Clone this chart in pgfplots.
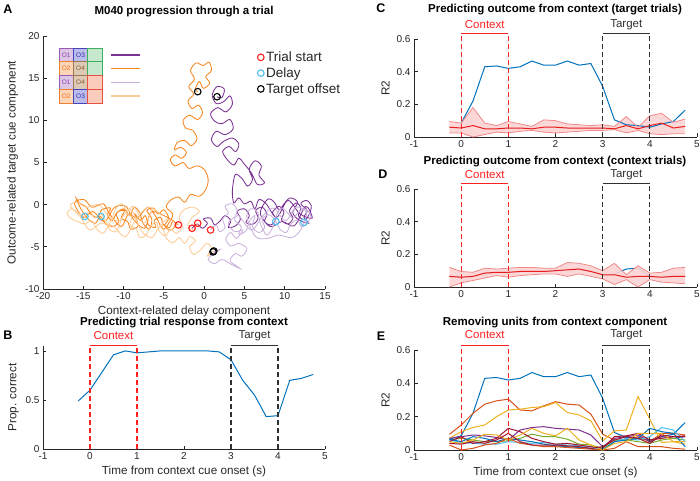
\documentclass[border=0pt]{standalone}
\usepackage{fontspec}
\setmainfont{Liberation Sans}
\usepackage{pgfplots}
\pgfplotsset{compat=1.18}

\definecolor{mgray}{rgb}{0.15,0.15,0.15}
\definecolor{mblue}{rgb}{0,0.447,0.741}
\definecolor{morange}{rgb}{0.85,0.325,0.098}
\definecolor{myellow}{rgb}{0.929,0.694,0.125}
\definecolor{mpurple}{rgb}{0.494,0.184,0.556}
\definecolor{mgreen}{rgb}{0.466,0.674,0.188}
\definecolor{mcyan}{rgb}{0.301,0.745,0.933}
\definecolor{mdred}{rgb}{0.635,0.078,0.184}
\definecolor{ctxred}{HTML}{FF2020}
\definecolor{tgtgray}{HTML}{303030}
\definecolor{meanred}{HTML}{E81E1E}
\definecolor{bandfill}{HTML}{FBD3D3}
\definecolor{bandedge}{HTML}{F08A8A}
\definecolor{trP}{HTML}{7B3294}
\definecolor{trO}{HTML}{F7861E}
\definecolor{trLP}{HTML}{CBB2DD}
\definecolor{trLO}{HTML}{FDCB96}
\definecolor{cPf}{HTML}{DCC6E6}\definecolor{cPd}{HTML}{9B59B6}\definecolor{cPt}{HTML}{8E3FAA}
\definecolor{cOf}{HTML}{FCD6B8}\definecolor{cOd}{HTML}{F08030}\definecolor{cOt}{HTML}{F06A1A}
\definecolor{cBf}{HTML}{BCBCEA}\definecolor{cBd}{HTML}{4545C0}\definecolor{cBt}{HTML}{3030B0}
\definecolor{cNf}{HTML}{DDCAB6}\definecolor{cNd}{HTML}{A07850}\definecolor{cNt}{HTML}{8B5A2B}
\definecolor{cGf}{HTML}{C6E9CE}\definecolor{cGd}{HTML}{3DAF5E}
\definecolor{cRf}{HTML}{FBCBBB}\definecolor{cRd}{HTML}{E85040}

\pgfplotsset{
  matlab/.style={
    scale only axis,
    anchor=south west,
    axis x line=bottom, axis y line=left,
    axis line style={-, draw=mgray, line width=0.8pt},
    tick align=inside,
    major tick length=3.5pt,
    tick style={draw=mgray, line width=0.8pt},
    ticklabel style={font=\fontsize{10}{12}\selectfont, text=mgray},
    label style={font=\fontsize{11.7}{14}\selectfont, text=mgray},
    /pgf/number format/assume math mode=true,
    clip=false,
  },
  tsax/.style={matlab, width=283pt, height=98pt,
    xmin=-1, xmax=5, xtick={-1,0,...,5},
    ymin=0, ymax=0.6, ytick={0,0.2,0.4,0.6},
    yticklabel style={/pgf/number format/fixed},
    ylabel={R2}},
  traj/.style={line width=0.85pt, smooth, tension=0.55, forget plot},
}

% context / target markers inside an axis
\newcommand{\epochs}[2]{%
  \draw[ctxred, line width=1.3pt, dash pattern=on 5pt off 3pt] (axis cs:0,0) -- (axis cs:0,#1);
  \draw[ctxred, line width=1.3pt, dash pattern=on 5pt off 3pt] (axis cs:1,0) -- (axis cs:1,#1);
  \draw[ctxred, line width=1.2pt] (axis cs:0,#1) -- (axis cs:1,#1);
  \node[ctxred, font=\fontsize{11.5}{14}\selectfont] at (axis cs:0.5,#2) {Context};
  \draw[tgtgray, line width=1.3pt, dash pattern=on 5pt off 3pt] (axis cs:3,0) -- (axis cs:3,#1);
  \draw[tgtgray, line width=1.3pt, dash pattern=on 5pt off 3pt] (axis cs:4,0) -- (axis cs:4,#1);
  \draw[tgtgray, line width=1.2pt] (axis cs:3,#1) -- (axis cs:4,#1);
  \node[tgtgray, font=\fontsize{11.5}{14}\selectfont] at (axis cs:3.5,#2) {Target};
}
% one cell of the condition grid in panel A
\newcommand{\cell}[6]{%
  \filldraw[fill=#3, draw=#4, line width=0.8pt] (axis cs:#1,#2) rectangle (axis cs:#1+1.776,#2+1.63);
  \node[text=#6, font=\fontsize{6.5}{7}\selectfont] at (axis cs:#1+0.888,#2+0.815) {#5};
}

\begin{document}
\begin{tikzpicture}
\useasboundingbox (0pt,0pt) rectangle (700pt,480pt);

% ---------------- A ----------------
\begin{axis}[matlab, at={(43pt,191pt)}, width=282pt, height=253pt,
  xmin=-20, xmax=15, ymin=-10, ymax=20,
  xtick={-20,-15,...,15}, ytick={-10,-5,...,20},
  xlabel={Context-related delay component},
  ylabel={Outcome-related target cue component},
  legend cell align=left,
  legend style={at={(axis cs:6.6,18.4)}, anchor=north west, draw=none, fill=none,
    font=\fontsize{13.5}{15}\selectfont, text=mgray, row sep=0.5pt, inner sep=0pt},
  legend image code/.code={\draw[#1] plot coordinates {(4pt,0pt)};},
]
\addplot[trP, traj] coordinates {
(-1.5,-2.8) (-0.9,-2.3) (-0.2,-2.8) (0.4,-2.2) (-0.1,-1.7) (0.8,-1.6) (1.3,-2.4) (2.0,-1.9)
(2.6,-1.3) (3.3,-1.9) (3.0,-2.7) (3.9,-2.5) (4.5,-1.7) (4.1,-0.8) (5.0,-0.5) (5.6,-1.3)
(5.2,-2.1) (6.1,-2.3) (6.7,-1.6) (6.4,-0.7) (7.2,-0.3) (7.8,-1.1) (7.5,-2.0) (8.3,-2.4)
(8.9,-1.7) (8.5,-0.9) (9.3,-0.2) (9.9,-0.9) (9.6,-1.8) (10.4,-2.3) (11.0,-1.6) (10.6,-0.7)
(11.4,0.2) (12.0,-0.4) (11.7,-1.3) (12.5,-1.8) (13.1,-1.0) (13.3,-0.1) (12.7,0.5) (12.0,0.1)
(12.8,-0.7) (12.4,-1.5) (13.0,-2.2) (12.4,-2.1) (11.6,-1.7) (11.0,-0.9) (11.6,0.3) (10.7,0.8)
(10.0,0.2) (9.3,-0.6) (8.7,0.3) (8.0,0.7) (7.3,-0.1) (7.0,-1.2) (8.2,-2.6) (9.7,-2.0)
(11.2,-2.5) (12.6,-0.2) (13.4,-1.6) (11.9,-1.1) (10.4,0.5) (9.0,-1.5) (7.7,0.1) (6.8,0.6)
(6.3,-0.5) (5.8,0.4) (5.0,0.1)
(4.3,0.8) (3.7,0.2) (3.5,1.3) (3.6,2.5) (3.9,3.6) (4.7,3.1) (5.4,2.2) (6.0,3.0) (5.6,4.2)
(6.3,5.2) (7.1,4.6) (6.8,3.5) (7.5,2.6) (6.6,2.4) (5.9,3.7) (5.0,4.8) (4.3,5.5) (3.7,4.7)
(2.9,5.3) (2.3,6.3) (3.1,6.9) (3.9,6.3) (4.3,7.2) (3.5,7.9) (2.4,7.5) (1.6,6.9) (0.9,7.7)
(1.5,8.7) (2.6,8.3) (3.6,9.0) (3.2,10.1) (2.2,9.6) (1.3,9.9) (0.8,10.8) (1.7,11.5) (2.7,11.0)
(3.5,11.9) (3.2,12.9) (2.4,12.2) (1.5,12.0) (1.0,13.0) (1.6,14.0) (2.5,13.7) (2.2,12.7) (1.6,12.8)};
\addplot[trO, traj] coordinates {
(-3.2,-2.4) (-3.9,-2.0) (-4.3,-2.7) (-5.1,-2.3) (-5.4,-1.5) (-6.2,-1.9) (-6.0,-2.7) (-6.9,-2.4)
(-7.3,-1.3) (-7.9,-1.9) (-8.6,-1.1) (-8.2,-2.5) (-9.1,-2.9) (-9.5,-2.0) (-10.3,-1.6) (-9.9,-0.7)
(-10.8,-0.9) (-11.4,-1.9) (-12.0,-1.2) (-11.6,-0.4) (-12.7,-0.6) (-13.2,-1.5) (-14.1,-1.1)
(-14.6,-0.3) (-15.5,0.2) (-15.9,0.8) (-15.3,-0.5) (-14.4,-1.7) (-13.5,-2.2) (-12.9,-1.4)
(-12.2,-2.3) (-11.3,-2.6) (-10.6,-2.0) (-10.9,-1.1) (-10.0,-0.5) (-9.2,-1.3) (-8.7,-0.3)
(-8.0,-0.9) (-7.6,-2.2) (-6.8,-2.9) (-6.5,-1.7) (-7.1,-0.7) (-6.3,-0.4) (-5.7,-1.1) (-5.0,-0.6)
(-4.4,-1.6) (-4.9,-2.5) (-4.1,-3.0) (-3.5,-2.2)
(-5.2,-1.2) (-6.6,-0.9) (-7.4,-2.8) (-8.9,-1.6) (-9.7,-0.2) (-11.1,-0.3) (-12.4,-2.0)
(-13.8,-0.8) (-15.0,-1.5) (-16.1,0.2) (-14.9,0.6) (-13.9,-0.3) (-12.5,0.1) (-11.8,-1.0)
(-10.3,-2.6) (-9.4,-1.1) (-8.3,-1.6) (-7.0,-0.3) (-6.0,-1.4) (-5.1,-2.9) (-4.2,-1.9)
(-3.9,-1.1) (-4.7,-0.3) (-4.2,0.5) (-3.2,0.9)
(-2.4,0.3) (-1.7,1.2) (-0.6,1.0) (0.2,1.8) (0.5,3.0) (0.0,4.2) (-0.9,4.6) (-1.9,4.3) (-2.6,5.0)
(-3.6,4.6) (-4.2,5.3) (-3.6,5.9) (-2.8,5.5) (-2.2,6.2) (-2.9,6.8) (-3.7,6.5) (-3.3,7.4)
(-2.4,7.6) (-1.6,7.0) (-0.9,7.8) (-1.4,8.8) (-2.3,9.1) (-2.6,10.0) (-1.8,10.6) (-0.8,10.1)
(-0.2,10.9) (-0.7,11.8) (-1.5,11.4) (-2.0,12.3) (-1.3,13.1) (-1.9,14.0) (-1.2,14.9) (-1.7,15.9)
(-1.0,16.8) (-0.1,16.5) (0.6,16.9) (0.9,15.9) (0.2,15.2) (0.7,14.4) (-0.1,13.8) (-0.6,14.6)
(-1.1,13.7) (-0.8,13.4)};
\addplot[trLP, traj] coordinates {
(0.8,-3.0) (1.5,-2.4) (1.9,-3.2) (2.6,-2.7) (2.3,-1.7) (3.0,-1.0) (2.6,-0.2) (3.5,0.1)
(4.1,-0.7) (3.8,-1.8) (4.6,-2.6) (4.3,-3.5) (5.2,-3.1) (5.6,-2.0) (6.3,-1.3) (6.0,-2.6)
(6.8,-3.3) (7.5,-2.7) (7.2,-1.7) (8.1,-1.2) (8.9,-2.0) (9.4,-2.9) (10.2,-3.3) (10.7,-2.4)
(11.5,-1.8) (12.1,-2.6) (12.9,-2.1) (13.2,-1.2) (12.5,-0.5) (11.7,-0.9) (11.0,-1.6) (10.3,-0.9)
(9.6,-0.4) (9.0,-1.2) (8.6,-2.5) (7.8,-3.6) (7.0,-2.3) (6.6,-0.8) (5.8,-0.5) (5.3,-1.5)
(6.4,-3.8) (7.9,-4.0) (9.2,-3.6) (10.8,-3.9) (11.9,-3.1) (12.7,-1.0) (11.4,-0.3) (10.1,-1.9)
(8.6,-0.4) (7.3,-1.3) (6.0,-3.0) (5.0,-2.2) (4.2,-1.3) (3.0,-2.2) (3.8,-3.2)
(4.8,-3.0) (4.0,-4.0) (3.3,-3.3) (2.7,-4.1) (3.3,-4.9) (4.3,-4.6) (5.3,-5.2) (4.7,-6.1)
(3.9,-5.8) (3.2,-6.6) (3.9,-7.2) (4.5,-7.6) (3.4,-7.1) (2.2,-6.5) (1.3,-7.0) (0.5,-6.5)
(1.0,-5.9) (2.0,-5.3) (1.1,-5.6)};
\addplot[trLO, traj] coordinates {
(-0.8,-2.2) (-1.3,-3.0) (-2.0,-2.5) (-1.5,-1.5) (-0.6,-0.8) (-1.4,-0.3) (-2.5,-0.6) (-3.1,-1.5)
(-2.7,-2.6) (-3.4,-3.4) (-4.2,-2.9) (-4.8,-3.7) (-5.6,-3.1) (-5.9,-2.1) (-6.7,-2.6) (-7.2,-3.6)
(-8.0,-3.9) (-8.4,-2.9) (-9.2,-2.4) (-9.0,-1.4) (-9.9,-1.1) (-10.4,-2.1) (-10.9,-3.2)
(-11.7,-3.0) (-12.2,-2.0) (-12.9,-1.0) (-13.6,-1.6) (-14.2,-0.7) (-14.8,-1.4) (-15.6,-1.0)
(-16.4,-0.5) (-17.0,-1.0) (-16.6,-1.6) (-15.7,-2.0) (-14.8,-2.3) (-14.0,-1.9) (-13.4,-2.8)
(-12.6,-3.4) (-12.0,-2.7) (-11.4,-1.6) (-11.0,-0.5) (-10.2,0.1) (-9.6,-0.7) (-8.8,-0.2)
(-8.1,-1.2) (-7.6,-2.2) (-6.9,-1.6) (-6.4,-0.5) (-5.6,-1.0)
(-7.0,-0.3) (-8.5,-1.8) (-9.8,-3.8) (-11.2,-2.6) (-12.8,-2.2) (-14.2,-3.0) (-15.4,-1.4)
(-16.6,-0.2) (-15.9,0.3) (-14.6,-0.3) (-13.1,0.0) (-11.9,-1.3) (-10.6,-1.9) (-9.1,-0.6)
(-7.8,-3.1) (-6.5,-3.9) (-5.7,-2.8) (-4.6,-1.7) (-3.6,-2.3) (-4.3,-3.1)
(-5.2,-2.4) (-4.6,-4.1) (-3.8,-4.5)
(-3.1,-3.9) (-2.4,-4.6) (-1.8,-3.8) (-1.1,-4.3) (-1.8,-5.0) (-1.3,-5.9) (-0.4,-5.3) (0.3,-4.6)
(0.9,-5.1) (0.4,-6.1) (1.2,-5.5)};
\addplot[only marks, mark=o, mark size=3.3pt, ctxred, mark options={line width=1.1pt}]
  coordinates {(-3.2,-2.4) (-1.5,-2.8) (-0.8,-2.2) (0.8,-3.0)};
\addlegendentry{Trial start}
\addplot[only marks, mark=o, mark size=3.3pt, mcyan, mark options={line width=1.1pt}]
  coordinates {(-14.8,-1.4) (-12.8,-1.4) (8.9,-2.0) (12.4,-2.1)};
\addlegendentry{Delay}
\addplot[only marks, mark=o, mark size=3.3pt, black, mark options={line width=1.1pt}]
  coordinates {(-0.8,13.4) (1.6,12.8) (1.1,-5.6) (1.2,-5.5)};
\addlegendentry{Target offset}
% condition grid
\cell{-18.0}{16.95}{cPf}{cPd}{O1}{cPt}
\cell{-16.224}{16.95}{cBf}{cBd}{O3}{cBt}
\cell{-18.0}{15.32}{cOf}{cOd}{O2}{cOt}
\cell{-16.224}{15.32}{cNf}{cNd}{O4}{cNt}
\cell{-18.0}{13.69}{cPf}{cPd}{O1}{cPt}
\cell{-16.224}{13.69}{cNf}{cNd}{O4}{cNt}
\cell{-18.0}{12.06}{cOf}{cOd}{O2}{cOt}
\cell{-16.224}{12.06}{cBf}{cBd}{O3}{cBt}
\cell{-14.448}{16.95}{cGf}{cGd}{}{black}
\cell{-14.448}{15.32}{cGf}{cGd}{}{black}
\cell{-14.448}{13.69}{cRf}{cRd}{}{black}
\cell{-14.448}{12.06}{cRf}{cRd}{}{black}
\draw[trP, line width=1.6pt] (axis cs:-11.56,17.77) -- (axis cs:-7.96,17.77);
\draw[trO, line width=1.6pt] (axis cs:-11.56,16.14) -- (axis cs:-7.96,16.14);
\draw[trLP, line width=1.6pt] (axis cs:-11.56,14.51) -- (axis cs:-7.96,14.51);
\draw[trLO, line width=1.6pt] (axis cs:-11.56,12.88) -- (axis cs:-7.96,12.88);
\end{axis}

% ---------------- B ----------------
\begin{axis}[matlab, at={(43pt,31pt)}, width=282pt, height=103pt,
  xmin=-1, xmax=5, xtick={-1,0,...,5},
  ymin=0, ymax=1.05, ytick={0,0.5,1},
  xlabel={Time from context cue onset (s)},
  ylabel={Prop. correct},
]
\addplot[mblue, line width=1pt] coordinates {
(-0.25,0.49) (0,0.60) (0.25,0.78) (0.5,0.96) (0.75,1.0) (1.0,0.98) (1.25,0.99) (1.5,1.0)
(1.75,1.0) (2.0,1.0) (2.25,1.0) (2.5,1.0) (2.75,0.99) (3.0,0.91) (3.25,0.70) (3.5,0.55)
(3.75,0.33) (4.0,0.34) (4.25,0.70) (4.5,0.72) (4.75,0.76)};
\epochs{1.054}{1.153}
\end{axis}

% ---------------- C ----------------
\begin{axis}[tsax, at={(414pt,343pt)}]
\addplot[fill=bandfill, draw=none, fill opacity=0.9] coordinates {
(-0.25,0.095) (0,0.085) (0.25,0.18) (0.5,0.085) (0.75,0.07) (1.0,0.095) (1.25,0.08) (1.5,0.065)
(1.75,0.105) (2.0,0.10) (2.25,0.08) (2.5,0.075) (2.75,0.07) (3.0,0.075) (3.25,0.065) (3.5,0.125)
(3.75,0.06) (4.0,0.13) (4.25,0.145) (4.5,0.09) (4.75,0.11)
(4.75,0.02) (4.5,0.02) (4.25,0.015) (4.0,0.02) (3.75,0.04) (3.5,0.025) (3.25,0.045) (3.0,0.04)
(2.75,0.04) (2.5,0.035) (2.25,0.03) (2.0,0.025) (1.75,0.03) (1.5,0.04) (1.25,0.035) (1.0,0.025)
(0.75,0.03) (0.5,0.015) (0.25,0.0) (0,0.025) (-0.25,0.025)} \closedcycle;
\addplot[mblue, line width=1pt] coordinates {
(0,0.085) (0.25,0.22) (0.5,0.43) (0.75,0.435) (1.0,0.42) (1.25,0.43) (1.5,0.465) (1.75,0.44)
(2.0,0.44) (2.25,0.465) (2.5,0.44) (2.75,0.45) (3.0,0.31) (3.25,0.105) (3.5,0.075) (3.75,0.07)
(4.0,0.06) (4.25,0.08) (4.5,0.095) (4.75,0.165)};
\addplot[bandedge, line width=0.8pt] coordinates {
(-0.25,0.095) (0,0.085) (0.25,0.18) (0.5,0.085) (0.75,0.07) (1.0,0.095) (1.25,0.08) (1.5,0.065)
(1.75,0.105) (2.0,0.10) (2.25,0.08) (2.5,0.075) (2.75,0.07) (3.0,0.075) (3.25,0.065) (3.5,0.125)
(3.75,0.06) (4.0,0.13) (4.25,0.145) (4.5,0.09) (4.75,0.11)};
\addplot[bandedge, line width=0.8pt] coordinates {
(-0.25,0.025) (0,0.025) (0.25,0.0) (0.5,0.015) (0.75,0.03) (1.0,0.025) (1.25,0.035) (1.5,0.04)
(1.75,0.03) (2.0,0.025) (2.25,0.03) (2.5,0.035) (2.75,0.04) (3.0,0.04) (3.25,0.045) (3.5,0.025)
(3.75,0.04) (4.0,0.02) (4.25,0.015) (4.5,0.02) (4.75,0.02)};
\addplot[meanred, line width=1pt] coordinates {
(-0.25,0.06) (0,0.055) (0.25,0.07) (0.5,0.05) (0.75,0.05) (1.0,0.055) (1.25,0.055) (1.5,0.05)
(1.75,0.06) (2.0,0.06) (2.25,0.055) (2.5,0.055) (2.75,0.055) (3.0,0.055) (3.25,0.05) (3.5,0.07)
(3.75,0.05) (4.0,0.07) (4.25,0.085) (4.5,0.055) (4.75,0.065)};
\epochs{0.635}{0.69}
\end{axis}

% ---------------- D ----------------
\begin{axis}[tsax, at={(414pt,193pt)}]
\addplot[mblue, line width=1pt] coordinates {
(-0.25,0.065) (0,0.06) (0.25,0.065) (0.5,0.085) (0.75,0.09) (1.0,0.09) (1.25,0.095) (1.5,0.095)
(1.75,0.095) (2.0,0.1) (2.25,0.105) (2.5,0.11) (2.75,0.095) (3.0,0.075) (3.25,0.08) (3.5,0.11)
(3.75,0.115) (4.0,0.065) (4.25,0.06) (4.5,0.065) (4.75,0.065)};
\addplot[fill=bandfill, draw=none, fill opacity=0.9] coordinates {
(-0.25,0.12) (0,0.095) (0.25,0.09) (0.5,0.115) (0.75,0.11) (1.0,0.115) (1.25,0.12) (1.5,0.12)
(1.75,0.115) (2.0,0.115) (2.25,0.15) (2.5,0.145) (2.75,0.13) (3.0,0.1) (3.25,0.145) (3.5,0.075)
(3.75,0.13) (4.0,0.085) (4.25,0.09) (4.5,0.115) (4.75,0.12)
(4.75,0.02) (4.5,0.025) (4.25,0.03) (4.0,0.045) (3.75,0.0) (3.5,0.045) (3.25,0.015) (3.0,0.05)
(2.75,0.065) (2.5,0.08) (2.25,0.065) (2.0,0.08) (1.75,0.08) (1.5,0.075) (1.25,0.07) (1.0,0.06)
(0.75,0.07) (0.5,0.055) (0.25,0.04) (0,0.025) (-0.25,0.0)} \closedcycle;
\addplot[bandedge, line width=0.8pt] coordinates {
(-0.25,0.12) (0,0.095) (0.25,0.09) (0.5,0.115) (0.75,0.11) (1.0,0.115) (1.25,0.12) (1.5,0.12)
(1.75,0.115) (2.0,0.115) (2.25,0.15) (2.5,0.145) (2.75,0.13) (3.0,0.1) (3.25,0.145) (3.5,0.075)
(3.75,0.13) (4.0,0.085) (4.25,0.09) (4.5,0.115) (4.75,0.12)};
\addplot[bandedge, line width=0.8pt] coordinates {
(-0.25,0.0) (0,0.025) (0.25,0.04) (0.5,0.055) (0.75,0.07) (1.0,0.06) (1.25,0.07) (1.5,0.075)
(1.75,0.08) (2.0,0.08) (2.25,0.065) (2.5,0.08) (2.75,0.065) (3.0,0.05) (3.25,0.015) (3.5,0.045)
(3.75,0.0) (4.0,0.045) (4.25,0.03) (4.5,0.025) (4.75,0.02)};
\addplot[meanred, line width=1pt] coordinates {
(-0.25,0.065) (0,0.06) (0.25,0.065) (0.5,0.085) (0.75,0.09) (1.0,0.09) (1.25,0.095) (1.5,0.095)
(1.75,0.095) (2.0,0.1) (2.25,0.105) (2.5,0.11) (2.75,0.095) (3.0,0.075) (3.25,0.075) (3.5,0.06)
(3.75,0.065) (4.0,0.065) (4.25,0.06) (4.5,0.065) (4.75,0.065)};
\epochs{0.635}{0.69}
\end{axis}

% ---------------- E ----------------
\begin{axis}[tsax, at={(414pt,30pt)}, height=100pt,
  xlabel={Time from context cue onset (s)}]
\addplot[mblue, line width=1pt] coordinates {
(-0.25,0.065) (0,0.085) (0.25,0.22) (0.5,0.43) (0.75,0.435) (1.0,0.42) (1.25,0.43) (1.5,0.465)
(1.75,0.44) (2.0,0.44) (2.25,0.465) (2.5,0.44) (2.75,0.45) (3.0,0.31) (3.25,0.105) (3.5,0.075)
(3.75,0.07) (4.0,0.06) (4.25,0.08) (4.5,0.095) (4.75,0.165)};
\addplot[morange, line width=1pt] coordinates {
(-0.25,0.094) (0,0.15) (0.25,0.22) (0.5,0.275) (0.75,0.295) (1.0,0.305) (1.25,0.24) (1.5,0.235)
(1.75,0.265) (2.0,0.29) (2.25,0.275) (2.5,0.27) (2.75,0.215) (3.0,0.095) (3.25,0.06) (3.5,0.06)
(3.75,0.08) (4.0,0.05) (4.25,0.1) (4.5,0.1) (4.75,0.09)};
\addplot[myellow, line width=1pt] coordinates {
(-0.25,0.07) (0,0.11) (0.25,0.135) (0.5,0.15) (0.75,0.2) (1.0,0.24) (1.25,0.245) (1.5,0.255)
(1.75,0.26) (2.0,0.285) (2.25,0.225) (2.5,0.21) (2.75,0.175) (3.0,0.055) (3.25,0.115) (3.5,0.12)
(3.75,0.32) (4.0,0.185) (4.25,0.045) (4.5,0.05) (4.75,0.035)};
\addplot[mpurple, line width=1pt] coordinates {
(-0.25,0.07) (0,0.08) (0.25,0.09) (0.5,0.085) (0.75,0.075) (1.0,0.06) (1.25,0.12) (1.5,0.135)
(1.75,0.14) (2.0,0.13) (2.25,0.125) (2.5,0.12) (2.75,0.09) (3.0,0.02) (3.25,0.07) (3.5,0.08)
(3.75,0.09) (4.0,0.05) (4.25,0.08) (4.5,0.07) (4.75,0.08)};
\addplot[mgreen, line width=1pt] coordinates {
(-0.25,0.06) (0,0.07) (0.25,0.06) (0.5,0.05) (0.75,0.05) (1.0,0.055) (1.25,0.07) (1.5,0.095)
(1.75,0.08) (2.0,0.08) (2.25,0.065) (2.5,0.035) (2.75,0.03) (3.0,0.01) (3.25,0.06) (3.5,0.06)
(3.75,0.05) (4.0,0.04) (4.25,0.06) (4.5,0.07) (4.75,0.06)};
\addplot[mcyan, line width=1pt] coordinates {
(-0.25,0.06) (0,0.045) (0.25,0.04) (0.5,0.035) (0.75,0.035) (1.0,0.05) (1.25,0.045) (1.5,0.04)
(1.75,0.045) (2.0,0.035) (2.25,0.03) (2.5,0.025) (2.75,0.02) (3.0,0.005) (3.25,0.05) (3.5,0.07)
(3.75,0.06) (4.0,0.08) (4.25,0.135) (4.5,0.12) (4.75,0.05)};
\addplot[mdred, line width=1pt] coordinates {
(-0.25,0.05) (0,0.08) (0.25,0.04) (0.5,0.05) (0.75,0.07) (1.0,0.13) (1.25,0.11) (1.5,0.07)
(1.75,0.05) (2.0,0.035) (2.25,0.04) (2.5,0.03) (2.75,0.02) (3.0,0.01) (3.25,0.08) (3.5,0.085)
(3.75,0.1) (4.0,0.06) (4.25,0.07) (4.5,0.08) (4.75,0.085)};
\addplot[mblue, line width=1pt] coordinates {
(-0.25,0.065) (0,0.05) (0.25,0.08) (0.5,0.07) (0.75,0.05) (1.0,0.07) (1.25,0.06) (1.5,0.05)
(1.75,0.035) (2.0,0.025) (2.25,0.02) (2.5,0.015) (2.75,0.01) (3.0,0.0) (3.25,0.05) (3.5,0.06)
(3.75,0.07) (4.0,0.13) (4.25,0.11) (4.5,0.1) (4.75,0.02)};
\addplot[morange, line width=1pt] coordinates {
(-0.25,0.03) (0,0.0) (0.25,0.01) (0.5,0.03) (0.75,0.04) (1.0,0.07) (1.25,0.04) (1.5,0.03)
(1.75,0.02) (2.0,0.02) (2.25,0.015) (2.5,0.01) (2.75,0.005) (3.0,0.0) (3.25,0.01) (3.5,0.05)
(3.75,0.02) (4.0,0.02) (4.25,0.02) (4.5,0.01) (4.75,0.005)};
\addplot[myellow, line width=1pt] coordinates {
(-0.25,0.05) (0,0.04) (0.25,0.06) (0.5,0.095) (0.75,0.09) (1.0,0.06) (1.25,0.09) (1.5,0.13)
(1.75,0.1) (2.0,0.085) (2.25,0.13) (2.5,0.06) (2.75,0.03) (3.0,0.0) (3.25,0.04) (3.5,0.05)
(3.75,0.1) (4.0,0.1) (4.25,0.1) (4.5,0.05) (4.75,0.05)};
\addplot[mdred, line width=1pt] coordinates {
(-0.25,0.04) (0,0.035) (0.25,0.05) (0.5,0.04) (0.75,0.06) (1.0,0.1) (1.25,0.05) (1.5,0.03)
(1.75,0.03) (2.0,0.03) (2.25,0.025) (2.5,0.02) (2.75,0.01) (3.0,0.02) (3.25,0.06) (3.5,0.08)
(3.75,0.07) (4.0,0.04) (4.25,0.09) (4.5,0.08) (4.75,0.08)};
\epochs{0.628}{0.69}
\end{axis}

% titles and panel letters
\node[font=\bfseries\fontsize{11.5}{13}\selectfont] at (184pt,468pt) {M040 progression through a trial};
\node[font=\bfseries\fontsize{11.5}{13}\selectfont] at (184pt,157pt) {Predicting trial response from context};
\node[font=\bfseries\fontsize{11.5}{13}\selectfont] at (555pt,470pt) {Predicting outcome from context (target trials)};
\node[font=\bfseries\fontsize{11.5}{13}\selectfont] at (555pt,318pt) {Predicting outcome from context (context trials)};
\node[font=\bfseries\fontsize{11.5}{13}\selectfont] at (555pt,157pt) {Removing units from context component};
\node[font=\bfseries\fontsize{12.5}{14}\selectfont] at (8pt,471pt) {A};
\node[font=\bfseries\fontsize{12.5}{14}\selectfont] at (8pt,145pt) {B};
\node[font=\bfseries\fontsize{12.5}{14}\selectfont] at (381pt,472pt) {C};
\node[font=\bfseries\fontsize{12.5}{14}\selectfont] at (383pt,306pt) {D};
\node[font=\bfseries\fontsize{12.5}{14}\selectfont] at (381pt,144pt) {E};
\end{tikzpicture}
\end{document}
